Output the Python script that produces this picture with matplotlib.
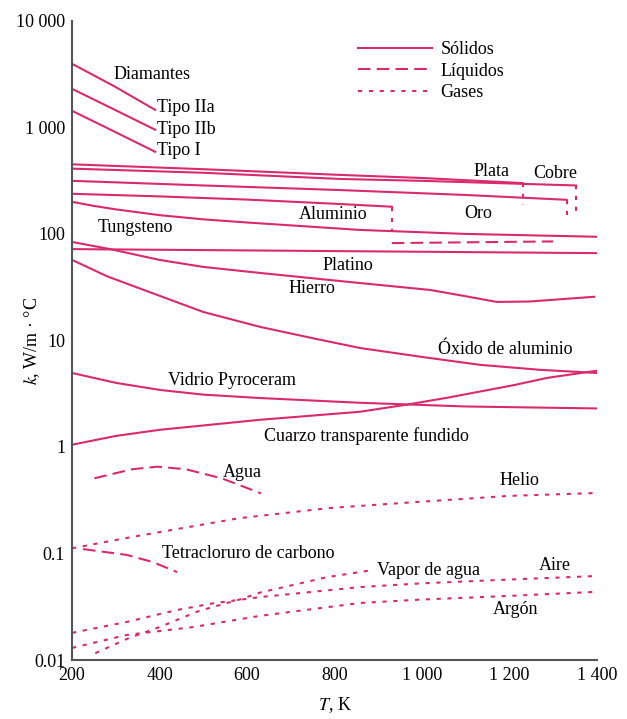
import matplotlib
matplotlib.use("Agg")
import matplotlib.pyplot as plt
from matplotlib.lines import Line2D
from matplotlib.ticker import FixedLocator, FixedFormatter

plt.rcParams['font.family'] = ['Liberation Serif', 'DejaVu Serif']
plt.rcParams['mathtext.fontset'] = 'stix'

# --- datos (T en K, k en W/m.C) ---
T_dia = [200, 295, 390]
k_IIa = [3950, 2450, 1460]
k_IIb = [2300, 1480, 950]
k_I = [1430, 920, 590]

T_plata = [200, 500, 813, 1000, 1230]
k_plata = [450, 405, 358, 335, 300]
T_cobre = [200, 500, 813, 1000, 1230, 1352]
k_cobre = [410, 375, 328, 315, 295, 285]
T_oro = [200, 500, 813, 1100, 1331]
k_oro = [315, 285, 258, 232, 209]
T_al = [200, 400, 600, 800, 931]
k_al = [238, 225, 210, 192, 180]
T_al_liq = [931, 1300]
k_al_liq = [82, 85]

# caidas al fundir (extremo del solido -> valor inferior)
T_fusion = [1230, 1352, 1331, 931]
k_fusion_sup = [300, 285, 209, 180]
k_fusion_inf = [187, 161, 151, 104]

T_w = [200, 250, 300, 400, 500, 600, 858, 1100, 1400]
k_w = [200, 183, 170, 150, 137, 128, 109, 100, 94]
T_pt = [200, 600, 1000, 1400]
k_pt = [72, 70, 68, 66]
T_fe = [200, 287, 400, 500, 630, 858, 1018, 1100, 1171, 1246, 1394]
k_fe = [84, 72, 57, 49, 43, 34.6, 29.8, 26, 23, 23.2, 25.7]
T_alox = [200, 280, 362, 500, 630, 750, 858, 1000, 1133, 1270, 1400]
k_alox = [57, 40, 30, 18.5, 13.4, 10.5, 8.5, 7.0, 5.9, 5.3, 4.95]
T_pyro = [200, 300, 401, 500, 630, 858, 1100, 1400]
k_pyro = [4.95, 4.0, 3.43, 3.1, 2.88, 2.6, 2.4, 2.3]
T_cuarzo = [200, 300, 401, 630, 858, 966, 1058, 1209, 1286, 1400]
k_cuarzo = [1.05, 1.27, 1.45, 1.8, 2.14, 2.5, 2.9, 3.8, 4.45, 5.2]

T_agua = [251, 337, 395, 460, 542, 632]
k_agua = [0.508, 0.618, 0.653, 0.618, 0.508, 0.367]
T_ccl4 = [225, 325, 385, 440]
k_ccl4 = [0.11, 0.097, 0.083, 0.067]

T_he = [200, 337, 583, 787, 991, 1196, 1400]
k_he = [0.112, 0.143, 0.215, 0.267, 0.305, 0.347, 0.37]
T_vapor = [253, 330, 400, 491, 583, 630, 783, 888]
k_vapor = [0.0116, 0.0161, 0.0204, 0.029, 0.037, 0.043, 0.060, 0.070]
T_aire = [200, 325, 440, 521, 630, 858, 1000, 1200, 1400]
k_aire = [0.018, 0.0228, 0.0295, 0.034, 0.039, 0.0484, 0.0525, 0.057, 0.0615]
T_ar = [200, 325, 477, 630, 858, 1000, 1200, 1400]
k_ar = [0.013, 0.0172, 0.0204, 0.026, 0.0343, 0.037, 0.040, 0.0437]

yticks = [0.01, 0.1, 1, 10, 100, 1000, 10000]
ylabels = ['0.01', '0.1', '1', '10', '100', '1 000', '10 000']
xticks = [200, 400, 600, 800, 1000, 1200, 1400]
xlabels = ['200', '400', '600', '800', '1 000', '1 200', '1 400']

color = '#d92a6e'
lw = 1.5
solido = '-'
liquido = (0, (6, 3))
gas = (0, (2, 3.2))

fig = plt.figure(figsize=(6.27, 7.19), dpi=100)
ax = fig.add_axes([0.115, 0.082, 0.837, 0.889])

for T, k in [(T_dia, k_IIa), (T_dia, k_IIb), (T_dia, k_I),
             (T_plata, k_plata), (T_cobre, k_cobre), (T_oro, k_oro),
             (T_al, k_al), (T_w, k_w), (T_pt, k_pt), (T_fe, k_fe),
             (T_alox, k_alox), (T_pyro, k_pyro), (T_cuarzo, k_cuarzo)]:
    ax.plot(T, k, color=color, lw=lw, ls=solido)

for T, k in [(T_al_liq, k_al_liq), (T_agua, k_agua), (T_ccl4, k_ccl4)]:
    ax.plot(T, k, color=color, lw=lw, ls=liquido)

for T, k in [(T_he, k_he), (T_vapor, k_vapor), (T_aire, k_aire), (T_ar, k_ar)]:
    ax.plot(T, k, color=color, lw=lw, ls=gas)

for t, ks, ki in zip(T_fusion, k_fusion_sup, k_fusion_inf):
    ax.plot([t, t], [ks, ki], color=color, lw=lw, ls=gas)

ax.set_yscale('log')
ax.set_xlim(200, 1400)
ax.set_ylim(0.01, 10000)
ax.yaxis.set_major_locator(FixedLocator(yticks))
ax.yaxis.set_major_formatter(FixedFormatter(ylabels))
ax.yaxis.set_minor_locator(FixedLocator([]))
ax.set_xticks(xticks)
ax.set_xticklabels(xlabels)
ax.tick_params(length=0, labelsize=13, pad=5)
for s in ['top', 'right']:
    ax.spines[s].set_visible(False)
for s in ['left', 'bottom']:
    ax.spines[s].set_color('#555555')
    ax.spines[s].set_linewidth(1.5)

ax.set_xlabel('$T$, K', fontsize=13, labelpad=8)
ax.set_ylabel('$k$, W/m · °C', fontsize=13)
ax.yaxis.set_label_coords(-0.057, 0.5)

fs = 13
etiquetas = [
    ('Diamantes', 383, 3110, 'center'),
    ('Tipo IIa', 395, 1525, 'left'),
    ('Tipo IIb', 395, 950, 'left'),
    ('Tipo I', 395, 603, 'left'),
    ('Plata', 1160, 382, 'center'),
    ('Cobre', 1304, 366, 'center'),
    ('Oro', 1128, 157, 'center'),
    ('Aluminio', 797, 151, 'center'),
    ('Tungsteno', 344, 116, 'center'),
    ('Platino', 831, 51, 'center'),
    ('Hierro', 749, 30.5, 'center'),
    ('Óxido de aluminio', 1190, 8.15, 'center'),
    ('Vidrio Pyroceram', 566, 4.17, 'center'),
    ('Cuarzo transparente fundido', 874, 1.27, 'center'),
    ('Agua', 589, 0.58, 'center'),
    ('Helio', 1224, 0.48, 'center'),
    ('Tetracloruro de carbono', 602, 0.101, 'center'),
    ('Vapor de agua', 1014, 0.070, 'center'),
    ('Aire', 1304, 0.078, 'center'),
    ('Argón', 1213, 0.030, 'center'),
]
for txt, x, y, ha in etiquetas:
    ax.text(x, y, txt, fontsize=fs, ha=ha, va='center')

handles = [Line2D([], [], color=color, lw=lw, ls=solido),
           Line2D([], [], color=color, lw=lw, ls=liquido),
           Line2D([], [], color=color, lw=lw, ls=gas)]
ax.legend(handles, ['Sólidos', 'Líquidos', 'Gases'], loc='upper left',
          bbox_to_anchor=(0.545, 0.968), frameon=False, fontsize=13,
          handlelength=4.1, handletextpad=0.45, labelspacing=0.25,
          borderpad=0, borderaxespad=0)

fig.savefig('out.png', dpi=100)
